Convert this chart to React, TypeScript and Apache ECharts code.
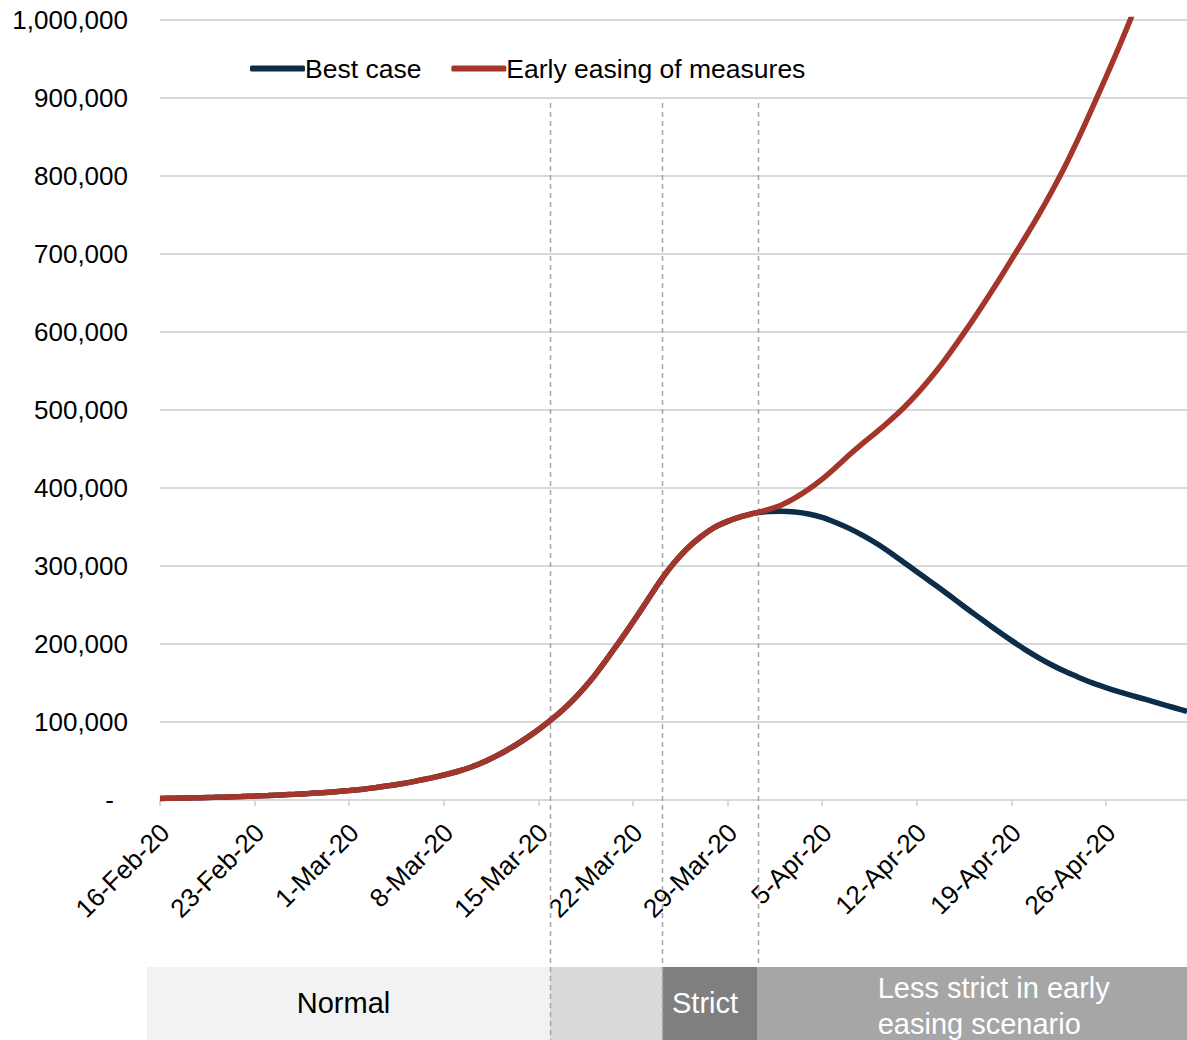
import React, { useEffect, useRef } from "react";
import * as echarts from "echarts";

// Days since 16-Feb-20 are the x values; every 7th day carries a tick label.
const tickLabels = [
  "16-Feb-20", "23-Feb-20", "1-Mar-20", "8-Mar-20", "15-Mar-20", "22-Mar-20",
  "29-Mar-20", "5-Apr-20", "12-Apr-20", "19-Apr-20", "26-Apr-20",
];
const lastDay = 76;

// Common path of both scenarios, days 0..44
const sharedPath = [
  2000, 2300, 2700, 3000, 3400, 3900, 4400, 5000, 5700, 6500,
  7300, 8300, 9400, 10700, 12100, 13800, 16000, 18500, 21200, 24500,
  28000, 32000, 36500, 42000, 49000, 57500, 67000, 78000, 90000, 103500,
  118500, 136000, 156000, 179000, 203000, 228000, 254000, 280000, 303000, 322000,
  337000, 349000, 357000, 363000, 367500,
];

// Days 45..76
const bestCaseTail = [
  369500, 370000, 369000, 366500, 362000, 355500, 348000, 339000, 329000, 317500,
  305000, 292500, 280000, 267500, 254500, 241500, 229000, 216500, 204500, 193000,
  182500, 173000, 164500, 157000, 150000, 144000, 138500, 133500, 128500, 123500,
  118500, 113500,
];
const earlyEasingTail = [
  372000, 378000, 387000, 398000, 411000, 426000, 442000, 457000, 471000, 486000,
  502000, 520000, 540000, 562000, 586000, 611000, 637000, 664000, 692000, 720000,
  749000, 780000, 813000, 849000, 887000, 926000, 966000, 1008000, 1051000, 1096000,
  1142000, 1190000,
];

const bestCase = [...sharedPath, ...bestCaseTail];
const earlyEasing = [...sharedPath, ...earlyEasingTail];

// Phases of restrictions, as day boundaries
const phaseEdges = [-0.96, 28.86, 37.18, 44.23, lastDay];
const phaseNames = ["Normal", "", "Strict", "Less strict in early\neasing scenario"];
const phaseFills = ["#f2f2f2", "#d9d9d9", "#7f7f7f", "#a6a6a6"];
const phaseTextColors = ["#000000", "#000000", "#ffffff", "#ffffff"];

const FONT = "'Liberation Sans', Arial, Helvetica, sans-serif";
const BLUE = "#0c2d4a";
const RED = "#a3352a";

export default function App() {
  const ref = useRef<HTMLDivElement>(null);

  useEffect(() => {
    if (!ref.current) return;
    const chart = echarts.init(ref.current, undefined, { renderer: "svg" });

    chart.setOption({
      animation: false,
      backgroundColor: "#ffffff",
      textStyle: { fontFamily: FONT },
      grid: { left: 160, right: 0, top: 19.5, bottom: 240, containLabel: false },
      legend: {
        left: 245,
        top: 50,
        icon: "roundRect",
        itemWidth: 55,
        itemHeight: 6,
        itemGap: 30,
        textStyle: { fontFamily: FONT, fontSize: 26.5, color: "#000000", padding: [0, 0, 0, -5] },
        data: ["Best case", "Early easing of measures"],
      },
      xAxis: {
        type: "value",
        min: 0,
        max: lastDay,
        interval: 7,
        axisLine: { show: true, lineStyle: { color: "#d9d9d9", width: 2 } },
        axisTick: { show: true, length: 6, lineStyle: { color: "#d9d9d9", width: 2 } },
        splitLine: { show: false },
        axisLabel: {
          rotate: 45,
          margin: 33,
          padding: [0, -7, 0, 0],
          fontFamily: FONT,
          fontSize: 26,
          color: "#000000",
          showMaxLabel: false,
          formatter: (v: number) => (v % 7 === 0 ? tickLabels[v / 7] ?? "" : ""),
        },
      },
      yAxis: {
        type: "value",
        min: 0,
        max: 1000000,
        interval: 100000,
        axisLine: { show: false },
        axisTick: { show: false },
        splitLine: { lineStyle: { color: "#d9d9d9", width: 2 } },
        axisLabel: {
          margin: 32,
          fontFamily: FONT,
          fontSize: 26,
          color: "#000000",
          formatter: (v: number) => (v === 0 ? "{z|-}" : v.toLocaleString("en-US")),
          rich: {
            z: { fontFamily: FONT, fontSize: 26, color: "#000000", padding: [0, 14, 0, 0] },
          },
        },
      },
      series: [
        {
          name: "Best case",
          type: "line",
          data: bestCase.map((v, i) => [i, v]),
          showSymbol: false,
          symbol: "none",
          smooth: 0.2,
          clip: true,
          lineStyle: { color: BLUE, width: 5.5 },
          itemStyle: { color: BLUE },
          z: 3,
        },
        {
          name: "Early easing of measures",
          type: "line",
          data: earlyEasing.map((v, i) => [i, v]),
          showSymbol: false,
          symbol: "none",
          smooth: 0.2,
          clip: true,
          lineStyle: { color: RED, width: 5.5 },
          itemStyle: { color: RED },
          z: 4,
        },
      ],
    });

    // Phase band under the axis and dashed phase boundaries
    const px = (d: number) => chart.convertToPixel({ gridIndex: 0 }, [d, 0])[0];
    const topPx = chart.convertToPixel({ gridIndex: 0 }, [0, 893000])[1];
    const bandTop = 967;
    const bandBottom = 1040;
    const graphics: any[] = [];

    phaseNames.forEach((name, i) => {
      const x0 = px(phaseEdges[i]);
      const x1 = px(phaseEdges[i + 1]);
      graphics.push({
        type: "rect",
        z: 0,
        shape: { x: x0, y: bandTop, width: x1 - x0, height: bandBottom - bandTop },
        style: { fill: phaseFills[i] },
      });
      if (name) {
        const multi = name.includes("\n");
        graphics.push({
          type: "text",
          z: 1,
          x: multi ? x0 + 120 : (x0 + x1) / 2 - 5,
          y: multi ? 1006 : 1003,
          style: {
            text: name,
            fill: phaseTextColors[i],
            font: `29px ${FONT}`,
            fontSize: 29,
            fontFamily: FONT,
            lineHeight: 36,
            textAlign: multi ? "left" : "center",
            textVerticalAlign: "middle",
          },
        });
      }
    });

    phaseEdges.slice(1, 4).forEach((d) => {
      const x = Math.round(px(d)) + 0.5;
      graphics.push({
        type: "line",
        z: 1,
        shape: { x1: x, y1: topPx, x2: x, y2: bandBottom },
        style: { stroke: "#a6a6a6", lineWidth: 1.5, lineDash: [5, 4] },
      });
    });

    chart.setOption({ graphic: graphics });

    return () => chart.dispose();
  }, []);

  return (
    <div
      ref={ref}
      style={{ position: "absolute", left: 0, top: 0, width: 1187, height: 1040, background: "#fff" }}
    />
  );
}
